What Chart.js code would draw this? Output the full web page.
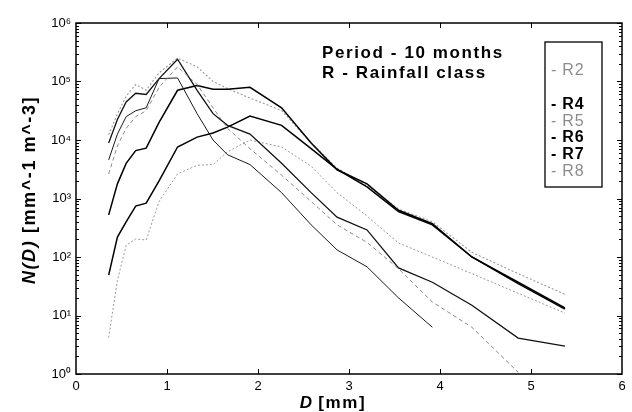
<!DOCTYPE html>
<html>
<head>
<meta charset="utf-8">
<script src="https://cdn.jsdelivr.net/npm/chart.js@4.4.1/dist/chart.umd.min.js"></script>
<style>
  body { margin: 0; background: #fff; }
  canvas { display: block; }
</style>
</head>
<body>
<canvas id="nd-chart" width="632" height="412"></canvas>
<script>
// Joss-Waldvogel bin centres [mm]
const diameters = [0.359, 0.455, 0.551, 0.656, 0.771, 0.913, 1.116, 1.331, 1.506, 1.665,
                   1.912, 2.259, 2.584, 2.869, 3.198, 3.544, 3.916, 4.350, 4.859, 5.373];

const classes = ['R2', 'R3', 'R4', 'R5', 'R6', 'R7', 'R8'];

// N(D) [mm^-1 m^-3] per rainfall class
const r2 = [2630, 7900, 15800, 25100, 31600, 79400, 178000, 89000, 35500, 15800, 7100, 2500, 890, 355, 178, 63, 17, 6.3, 1.07, null];
const r3 = [4570, 12600, 25100, 31600, 35500, 112000, 115000, 28200, 10000, 5600, 3800, 1260, 355, 132, 68, 20, 6.3, null, null, null];
const r4 = [8900, 22400, 44700, 63000, 60000, 112000, 240000, 70800, 28200, 17800, 12600, 4000, 1260, 480, 290, 65, 37, 15, 4.1, 3.0];
const r5 = [4.2, 40, 158, 204, 195, 890, 2630, 3700, 3800, 6300, 10000, 7600, 3550, 1260, 500, 174, 100, 52, 24, 11];
const r6 = [49, 219, 400, 740, 830, 2000, 7600, 11200, 13200, 16600, 25700, 17800, 7100, 3160, 1580, 600, 355, 100, 35, 12.9];
const r7 = [525, 1780, 3980, 6600, 7240, 20000, 70800, 85000, 74000, 74000, 79400, 35500, 8900, 3100, 1780, 630, 370, 100, 37, 13.5];
const r8 = [12300, 28000, 56000, 89000, 71000, 141000, 251000, 178000, 100000, 76000, 52000, 32000, 8900, 3300, 1660, 660, 400, 120, 52, 23];

const seriesValues = [r2, r3, r4, r5, r6, r7, r8];
const legendHidden = ['R3'];

const xTicks = [0, 1, 2, 3, 4, 5, 6];
const yExponents = [0, 1, 2, 3, 4, 5, 6];

const noteLines = ['Period - 10 months', 'R - Rainfall class'];
const xTitle = ['D', ' [mm]'];
const yTitle = ['N(D)', ' [mm^-1 m^-3]'];

const FONT = '"Liberation Sans", Arial, Helvetica, sans-serif';
const SUP = { '0': '\u2070', '1': '\u00b9', '2': '\u00b2', '3': '\u00b3', '4': '\u2074', '5': '\u2075', '6': '\u2076' };

// line look per class
const styles = {
  R2: { color: '#8a8a8a', width: 1, dash: [4, 3], light: true },
  R3: { color: '#1a1a1a', width: 1, dash: [], light: false },
  R4: { color: '#111111', width: 1.3, dash: [], light: false },
  R5: { color: '#9a9a9a', width: 1, dash: [2, 2], light: true },
  R6: { color: '#000000', width: 1.5, dash: [], light: false },
  R7: { color: '#000000', width: 1.5, dash: [], light: false },
  R8: { color: '#9a9a9a', width: 1.1, dash: [2, 2], light: true },
};

const datasets = classes.map((name, i) => ({
  label: name,
  data: diameters.map((d, j) => ({ x: d, y: seriesValues[i][j] })).filter(p => p.y !== null),
  borderColor: styles[name].color,
  borderWidth: styles[name].width,
  borderDash: styles[name].dash,
  pointRadius: 0,
  tension: 0,
  fill: false,
}));

function isDecade(v) {
  const l = Math.log10(v);
  return Math.abs(l - Math.round(l)) < 1e-9;
}

function spacedText(ctx, text, x, y, spacing) {
  ctx.letterSpacing = spacing + 'px';
  ctx.fillText(text, x, y);
  const w = ctx.measureText(text).width;
  ctx.letterSpacing = '0px';
  return w;
}

// frame with inward ticks (major + log minors)
const framePlugin = {
  id: 'frame',
  afterDatasetsDraw(chart) {
    const { ctx, chartArea: a, scales } = chart;
    const xs = scales.x, ys = scales.y;
    ctx.save();
    ctx.strokeStyle = '#000';
    ctx.lineWidth = 1;
    ctx.beginPath();
    xTicks.forEach(t => {
      if (t === xTicks[0] || t === xTicks[xTicks.length - 1]) return;
      const px = Math.round(xs.getPixelForValue(t)) + 0.5;
      ctx.moveTo(px, a.bottom); ctx.lineTo(px, a.bottom - 5);
      ctx.moveTo(px, a.top); ctx.lineTo(px, a.top + 5);
    });
    yExponents.forEach(e => {
      for (let k = 1; k <= 9; k++) {
        const v = k * Math.pow(10, e);
        if (v > 1e6) break;
        const py = Math.round(ys.getPixelForValue(v)) + 0.5;
        const len = k === 1 ? 5 : 3;
        ctx.moveTo(a.left, py); ctx.lineTo(a.left + len, py);
        ctx.moveTo(a.right, py); ctx.lineTo(a.right - len, py);
      }
    });
    ctx.stroke();
    ctx.lineWidth = 1.5;
    ctx.strokeRect(a.left, a.top, a.right - a.left, a.bottom - a.top);
    ctx.restore();
  },
  afterDraw(chart) {
    const { ctx, chartArea: a } = chart;
    ctx.save();
    ctx.fillStyle = '#000';
    ctx.textBaseline = 'middle';
    ctx.textAlign = 'left';

    // note text
    ctx.font = 'bold 17px ' + FONT;
    spacedText(ctx, noteLines[0], 322, 53, 1.6);
    spacedText(ctx, noteLines[1], 322, 73, 1.6);

    // legend box
    const bx = 545, by = 42, bw = 57, bh = 145;
    ctx.lineWidth = 1.3;
    ctx.strokeStyle = '#000';
    ctx.strokeRect(bx, by, bw, bh);
    const rowY = [71, 88, 105, 122, 138, 155, 172];
    datasets.forEach((ds, i) => {
      if (legendHidden.includes(ds.label)) return;
      const st = styles[ds.label];
      ctx.font = (st.light ? '' : 'bold ') + '16px ' + FONT;
      ctx.fillStyle = st.light ? '#8c8c8c' : '#000';
      spacedText(ctx, '- ' + ds.label, 551, rowY[i], 0.8);
    });

    // x title: D italic bold + [mm]
    ctx.fillStyle = '#000';
    ctx.font = 'italic bold 17px ' + FONT;
    ctx.textBaseline = 'alphabetic';
    let w1 = ctx.measureText(xTitle[0]).width;
    ctx.font = 'bold 17px ' + FONT;
    let w2 = ctx.measureText(xTitle[1]).width + 1.6 * xTitle[1].length;
    let sx = 333 - (w1 + w2) / 2;
    ctx.font = 'italic bold 17px ' + FONT;
    ctx.fillText(xTitle[0], sx, 408);
    ctx.font = 'bold 17px ' + FONT;
    spacedText(ctx, xTitle[1], sx + w1, 408, 1.6);

    // y title, rotated
    ctx.translate(35, 190);
    ctx.rotate(-Math.PI / 2);
    ctx.font = 'italic bold 18px ' + FONT;
    w1 = ctx.measureText(yTitle[0]).width + 1.6 * yTitle[0].length;
    ctx.font = 'bold 18px ' + FONT;
    w2 = ctx.measureText(yTitle[1]).width + 1.6 * yTitle[1].length;
    sx = -(w1 + w2) / 2;
    ctx.font = 'italic bold 18px ' + FONT;
    spacedText(ctx, yTitle[0], sx, 0, 1.6);
    ctx.font = 'bold 18px ' + FONT;
    spacedText(ctx, yTitle[1], sx + w1, 0, 1.6);
    ctx.restore();
  }
};

const ctx = document.getElementById('nd-chart').getContext('2d');
new Chart(ctx, {
  type: 'line',
  data: { datasets: datasets },
  plugins: [framePlugin],
  options: {
    responsive: false,
    animation: false,
    parsing: true,
    layout: { padding: { left: 0, right: 10, top: 23, bottom: 0 } },
    plugins: {
      legend: { display: false },
      tooltip: { enabled: false },
      title: { display: false },
    },
    scales: {
      x: {
        type: 'linear',
        min: 0,
        max: 6,
        afterBuildTicks: (scale) => { scale.ticks = xTicks.map(v => ({ value: v })); },
        afterFit: (scale) => { scale.height = 38; },
        grid: { display: false, drawTicks: false },
        border: { display: false },
        ticks: {
          color: '#000',
          padding: 5,
          font: { family: FONT, size: 13 },
          maxRotation: 0,
        },
      },
      y: {
        type: 'logarithmic',
        min: 1,
        max: 1e6,
        afterBuildTicks: (scale) => { scale.ticks = yExponents.map(e => ({ value: Math.pow(10, e) })); },
        afterFit: (scale) => { scale.width = 76; },
        grid: { display: false, drawTicks: false },
        border: { display: false },
        ticks: {
          color: '#000',
          padding: 5,
          autoSkip: false,
          font: { family: FONT, size: 13 },
          callback: (v) => {
            if (!isDecade(v)) return '';
            const e = String(Math.round(Math.log10(v)));
            return '10' + e.split('').map(c => SUP[c]).join('');
          },
        },
      },
    },
  },
});
</script>
</body>
</html>
